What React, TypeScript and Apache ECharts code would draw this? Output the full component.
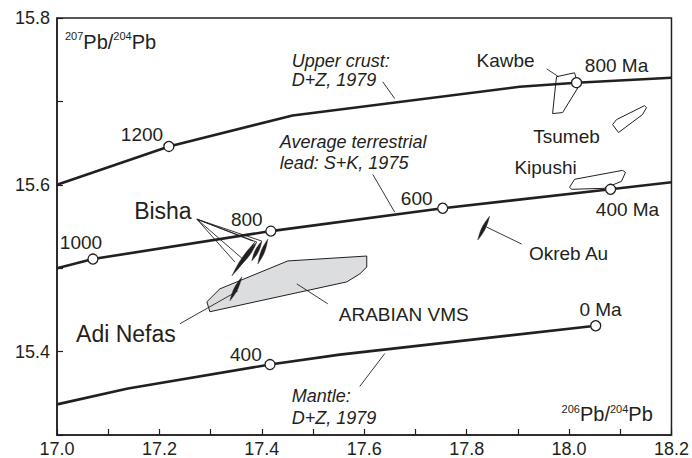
import React, { useEffect, useRef } from "react";
import * as echarts from "echarts";

const FONT = '"Liberation Sans", Arial, Helvetica, sans-serif';
const INK = "#231f20";

// Growth curves (206Pb/204Pb, 207Pb/204Pb)
const upperCrust = [[17.0, 15.6], [17.2185, 15.646], [17.46, 15.683], [17.9034, 15.7176], [18.0146, 15.7224], [18.2, 15.7284]];
const upperCrustAges = [[17.2185, 15.646], [18.0146, 15.7224]];
const avgTerrestrial = [[17.0, 15.5], [17.0702, 15.511], [17.4176, 15.5445], [17.7532, 15.5719], [18.081, 15.5946], [18.2, 15.603]];
const avgTerrestrialAges = [[17.0702, 15.511], [17.4176, 15.5445], [17.7532, 15.5719], [18.081, 15.5946]];
const mantle = [[17.0, 15.3367], [17.1385, 15.3558], [17.416, 15.3845], [17.5522, 15.3964], [18.052, 15.431]];
const mantleAges = [[17.416, 15.3845], [18.052, 15.431]];

// Fields (outlines)
const arabianVMS = [[17.2927, 15.4597], [17.318, 15.4752], [17.4507, 15.5087], [17.6049, 15.5146], [17.6049, 15.5015], [17.5912, 15.4931], [17.5659, 15.4836], [17.2985, 15.4478]];
const kawbe = [[17.9756, 15.7296], [18.0107, 15.7343], [18.0185, 15.7176], [17.9873, 15.6866], [17.9678, 15.6854], [17.9737, 15.72]];
const tsumeb = [[18.0849, 15.6722], [18.0966, 15.6627], [18.1434, 15.6842], [18.1512, 15.6925], [18.1473, 15.6949], [18.0927, 15.6782]];
const kipushi = [[18.001, 15.597], [18.0107, 15.6066], [18.1044, 15.6173], [18.1102, 15.6149], [18.1024, 15.6042], [18.0693, 15.5958], [18.0049, 15.5946]];

// Elongated data arrays (start x, start y, end x, end y)
const bishaStreaks = [
  [17.3415, 15.4907, 17.3863, 15.5313],
  [17.3571, 15.5027, 17.3902, 15.5313],
  [17.3805, 15.5087, 17.4, 15.5325],
  [17.3922, 15.5051, 17.4117, 15.5349],
];
const adiNefasStreak = [[17.3376, 15.4609, 17.361, 15.4896]];
const okrebStreak = [[17.8215, 15.5337, 17.8449, 15.5624]];

// Leader lines
const leaders = [
  [17.6361, 15.7236, 17.6595, 15.7033],
  [17.6166, 15.6125, 17.6595, 15.5672],
  [17.9561, 15.7391, 17.9795, 15.7296],
  [17.839, 15.5493, 17.9073, 15.529],
  [17.4683, 15.4812, 17.5288, 15.4573],
  [17.24, 15.4334, 17.3532, 15.4728],
  [17.5912, 15.3582, 17.64, 15.3976],
  [17.2732, 15.5588, 17.3824, 15.5325],
  [17.2732, 15.5588, 17.3902, 15.5313],
  [17.2732, 15.5588, 17.4, 15.5325],
  [17.2732, 15.5588, 17.3629, 15.511],
  [17.2732, 15.5588, 17.3473, 15.5075],
];

// Labels: [text, x, y]
const plainLabels = [
  ["1200", 17.1659, 15.6603],
  ["Kawbe", 17.8761, 15.7487],
  ["800 Ma", 18.0927, 15.7427],
  ["Tsumeb", 17.9951, 15.6579],
  ["Kipushi", 17.9541, 15.6209],
  ["400 Ma", 18.1141, 15.5707],
  ["600", 17.7024, 15.5839],
  ["800", 17.3707, 15.5588],
  ["1000", 17.0468, 15.5313],
  ["Okreb Au", 17.999, 15.5182],
  ["ARABIAN VMS", 17.6771, 15.4442],
  ["0 Ma", 18.0615, 15.4501],
  ["400", 17.3688, 15.3964],
];
const largeLabels = [
  ["Bisha", 17.2068, 15.5684],
  ["Adi Nefas", 17.1346, 15.4215],
];
const italicLabels = [
  ["Upper crust:", 17.4585, 15.7487],
  ["D+Z, 1979", 17.4585, 15.7254],
  ["Average terrestrial", 17.4351, 15.6513],
  ["lead: S+K, 1975", 17.4351, 15.6263],
  ["Mantle:", 17.4585, 15.3463],
  ["D+Z, 1979", 17.4585, 15.32],
];
const axisTitles = [
  ["207", "204", 17.0156, 15.7713],
  ["206", "204", 17.9854, 15.3248],
];

const xMin = 17.0, xMax = 18.2, xStep = 0.1;
const yMin = 15.3, yMax = 15.8, yStep = 0.1;

function lineSeries(data: number[][]) {
  return {
    type: "line",
    data,
    symbol: "none",
    lineStyle: { color: INK, width: 2.6 },
    z: 3,
    silent: true,
  };
}

function ageSeries(data: number[][]) {
  return {
    type: "scatter",
    data,
    symbol: "circle",
    symbolSize: 10,
    itemStyle: { color: "#fff", borderColor: INK, borderWidth: 1.3, opacity: 1 },
    z: 4,
    silent: true,
  };
}

function polygonSeries(polys: number[][][], fill: string, z: number) {
  return {
    type: "custom",
    data: polys.map((p) => p[0]),
    encode: { x: 0, y: 1 },
    clip: false,
    silent: true,
    z,
    renderItem: (params: any, api: any) => {
      const pts = polys[params.dataIndex].map((q) => api.coord(q));
      return {
        type: "polygon",
        shape: { points: pts },
        style: { fill, stroke: INK, lineWidth: 1 },
      };
    },
  };
}

function streakSeries(arr: number[][]) {
  return {
    type: "custom",
    data: arr.map((s) => [s[0], s[1]]),
    encode: { x: 0, y: 1 },
    clip: false,
    silent: true,
    z: 5,
    renderItem: (params: any, api: any) => {
      const s = arr[params.dataIndex];
      const a = api.coord([s[0], s[1]]);
      const b = api.coord([s[2], s[3]]);
      const dx = b[0] - a[0], dy = b[1] - a[1];
      const len = Math.hypot(dx, dy) || 1;
      const nx = -dy / len, ny = dx / len;
      const hw = 1.8;
      const left: number[][] = [];
      const right: number[][] = [];
      const n = 16;
      for (let i = 0; i <= n; i++) {
        const t = i / n;
        const w = hw * Math.sin(Math.PI * t);
        const cx = a[0] + dx * t, cy = a[1] + dy * t;
        left.push([cx + nx * w, cy + ny * w]);
        right.push([cx - nx * w, cy - ny * w]);
      }
      return {
        type: "polygon",
        shape: { points: left.concat(right.reverse()) },
        style: { fill: INK, stroke: INK, lineWidth: 0.4 },
      };
    },
  };
}

function leaderSeries(arr: number[][]) {
  return {
    type: "custom",
    data: arr.map((s) => [s[0], s[1]]),
    encode: { x: 0, y: 1 },
    clip: false,
    silent: true,
    z: 5,
    renderItem: (params: any, api: any) => {
      const s = arr[params.dataIndex];
      const a = api.coord([s[0], s[1]]);
      const b = api.coord([s[2], s[3]]);
      return {
        type: "line",
        shape: { x1: a[0], y1: a[1], x2: b[0], y2: b[1] },
        style: { stroke: INK, lineWidth: 0.9 },
      };
    },
  };
}

function textSeries(arr: any[][], font: string, align: string) {
  return {
    type: "custom",
    data: arr.map((s) => [s[1], s[2]]),
    encode: { x: 0, y: 1 },
    clip: false,
    silent: true,
    z: 6,
    renderItem: (params: any, api: any) => {
      const s = arr[params.dataIndex];
      const p = api.coord([s[1], s[2]]);
      return {
        type: "text",
        x: p[0],
        y: p[1],
        style: { text: s[0], font, fill: INK, align, verticalAlign: "middle" },
      };
    },
  };
}

function titleSeries(arr: any[][]) {
  return {
    type: "custom",
    data: arr.map((s) => [s[2], s[3]]),
    encode: { x: 0, y: 1 },
    clip: false,
    silent: true,
    z: 6,
    renderItem: (params: any, api: any) => {
      const s = arr[params.dataIndex];
      const p = api.coord([s[2], s[3]]);
      return {
        type: "text",
        x: p[0],
        y: p[1],
        style: {
          text: `{s|${s[0]}}{n|Pb/}{s|${s[1]}}{n|Pb}`,
          align: "left",
          verticalAlign: "middle",
          rich: {
            s: { fontFamily: FONT, fontSize: 11, fill: INK, verticalAlign: "top", lineHeight: 22 },
            n: { fontFamily: FONT, fontSize: 20, fill: INK, lineHeight: 22 },
          },
        },
      };
    },
  };
}

export default function App() {
  const ref = useRef<HTMLDivElement>(null);
  useEffect(() => {
    if (!ref.current) return;
    const chart = echarts.init(ref.current, null, { renderer: "svg" });
    chart.setOption({
      animation: false,
      backgroundColor: "#fff",
      grid: {
        left: 57, top: 18, right: 20, bottom: 22,
        show: true, borderColor: INK, borderWidth: 1.5, backgroundColor: "transparent",
      },
      xAxis: {
        type: "value", min: xMin, max: xMax, interval: xStep,
        axisLine: { show: true, lineStyle: { color: INK, width: 1.5 } },
        axisTick: { show: true, inside: true, length: 6, lineStyle: { color: INK, width: 1.2 } },
        splitLine: { show: false },
        axisLabel: {
          margin: 5, color: INK, fontFamily: FONT, fontSize: 18,
          formatter: (v: number) => (Math.round(v * 10) % 2 === 0 ? v.toFixed(1) : ""),
        },
      },
      yAxis: {
        type: "value", min: yMin, max: yMax, interval: yStep,
        axisLine: { show: true, lineStyle: { color: INK, width: 1.5 } },
        axisTick: { show: true, inside: true, length: 6, lineStyle: { color: INK, width: 1.2 } },
        splitLine: { show: false },
        axisLabel: {
          margin: 7, color: INK, fontFamily: FONT, fontSize: 18,
          formatter: (v: number) => {
            const r = Math.round(v * 10);
            return r % 2 === 0 ? v.toFixed(1) : "";
          },
        },
      },
      series: [
        polygonSeries([arabianVMS], "#dcdddf", 1),
        polygonSeries([kawbe, tsumeb, kipushi], "none", 2),
        lineSeries(upperCrust),
        lineSeries(avgTerrestrial),
        lineSeries(mantle),
        ageSeries(upperCrustAges),
        ageSeries(avgTerrestrialAges),
        ageSeries(mantleAges),
        streakSeries(bishaStreaks),
        streakSeries(adiNefasStreak),
        streakSeries(okrebStreak),
        leaderSeries(leaders),
        textSeries(plainLabels, `19px ${FONT}`, "center"),
        textSeries(largeLabels, `23px ${FONT}`, "center"),
        textSeries(italicLabels, `italic 18px ${FONT}`, "left"),
        titleSeries(axisTitles),
      ],
    });
    return () => chart.dispose();
  }, []);
  return <div ref={ref} style={{ width: 692, height: 458, position: "absolute", left: 0, top: 0 }} />;
}
